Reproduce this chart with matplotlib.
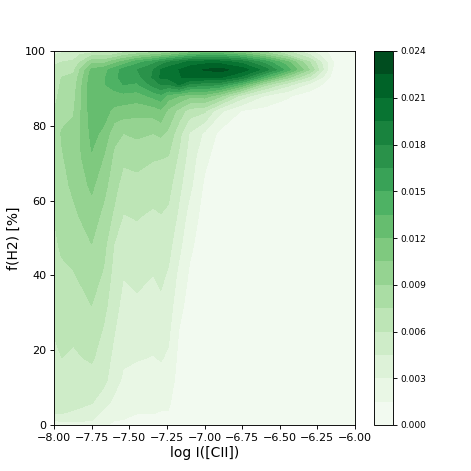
import numpy as np
import matplotlib
matplotlib.use("Agg")
import matplotlib.pyplot as plt

log_cii = [-8, -7.95, -7.87, -7.75, -7.67, -7.6, -7.54, -7.45, -7.34, -7.29, -7.24,
           -7.17, -7.1, -7.0, -6.9, -6.75, -6.6, -6.45, -6.3, -6.15, -6]
fh2 = [0, 3, 6, 12, 18, 24, 32, 40, 48, 56, 64, 72, 78, 84, 88, 91, 93, 95, 97, 99, 100]

# density (in units of 0.001), one list per log I column, one entry per f(H2) row
density_columns = [
    [2.0, 4.5, 4.7, 5.1, 5.6, 6.0, 6.4, 6.8, 7.2, 7.55, 7.9, 8.2, 8.0, 7.5, 7.1, 6.8, 6.6, 6.3, 5.8, 4.5, 3.5],
    [2.3, 4.5, 5.0, 5.5, 6.0, 6.3, 6.7, 7.2, 7.7, 8.1, 8.5, 8.9, 9.1, 8.5, 7.9, 7.7, 7.5, 6.8, 6.0, 5.0, 4.0],
    [2.5, 4.3, 4.9, 5.4, 5.8, 6.2, 6.7, 7.4, 8.0, 8.7, 9.3, 9.5, 9.3, 8.9, 8.5, 8.3, 7.8, 7.2, 6.2, 5.5, 4.5],
    [2.6, 3.6, 4.6, 5.4, 6.2, 6.9, 7.5, 8.2, 8.95, 9.8, 10.8, 11.9, 12.4, 12.8, 13.0, 13.0, 12.9, 12.3, 10.0, 7.0, 5.0],
    [1.7, 2.6, 3.5, 5.0, 5.3, 5.7, 6.5, 7.3, 8.0, 8.6, 9.5, 10.5, 11.7, 12.6, 13.1, 13.4, 13.3, 13.0, 10.0, 7.0, 5.5],
    [1.2, 2.0, 2.7, 3.5, 4.1, 4.5, 5.0, 5.4, 5.9, 7.2, 8.1, 8.7, 9.5, 11.6, 13.0, 14.0, 14.4, 14.2, 11.5, 7.5, 6.0],
    [1.3, 1.7, 2.1, 2.8, 3.2, 3.6, 4.1, 4.55, 5.2, 5.95, 6.8, 7.9, 9.0, 11.3, 13.0, 15.0, 15.7, 15.5, 12.5, 8.5, 6.5],
    [0.9, 1.5, 1.9, 2.5, 3.1, 3.5, 4.2, 4.9, 5.5, 6.1, 7.0, 8.1, 9.3, 11.0, 12.8, 14.7, 15.9, 16.4, 14.5, 9.5, 7.0],
    [0.9, 1.5, 1.8, 2.4, 2.95, 3.3, 3.9, 4.5, 5.2, 5.8, 6.6, 7.7, 9.0, 11.2, 13.9, 17.0, 18.2, 18.0, 16.0, 10.5, 8.0],
    [0.9, 1.4, 1.8, 2.5, 3.1, 3.5, 4.2, 4.8, 5.4, 5.95, 6.7, 7.6, 9.3, 11.7, 14.5, 18.0, 19.7, 19.6, 17.0, 11.0, 8.5],
    [0.8, 1.4, 1.7, 2.3, 2.8, 3.2, 3.8, 4.3, 5.0, 5.7, 6.5, 7.5, 8.7, 10.1, 12.8, 17.8, 20.0, 20.4, 18.0, 11.5, 9.0],
    [0.4, 0.6, 0.7, 0.9, 1.1, 1.4, 1.9, 2.6, 3.4, 4.2, 4.9, 5.8, 6.5, 8.5, 12.0, 19.5, 20.9, 21.0, 19.0, 12.5, 10.0],
    [0.2, 0.3, 0.4, 0.5, 0.6, 0.7, 1.0, 1.3, 1.8, 2.4, 3.4, 3.9, 4.4, 6.8, 11.0, 17.5, 21.3, 21.9, 20.0, 13.5, 10.5],
    [0.1, 0.15, 0.2, 0.25, 0.3, 0.35, 0.45, 0.55, 0.7, 0.9, 1.25, 1.9, 2.75, 6.3, 11.2, 17.0, 21.0, 22.6, 20.5, 14.5, 11.0],
    [0.0, 0.05, 0.05, 0.1, 0.1, 0.15, 0.2, 0.25, 0.3, 0.4, 0.55, 0.8, 1.15, 3.4, 9.5, 16.5, 21.3, 23.0, 20.5, 14.5, 11.0],
    [0.0, 0.0, 0.0, 0.05, 0.05, 0.05, 0.1, 0.1, 0.15, 0.2, 0.3, 0.5, 0.8, 1.4, 5.3, 13.0, 19.0, 21.8, 19.0, 13.0, 10.0],
    [0.0, 0.0, 0.0, 0.0, 0.05, 0.05, 0.05, 0.1, 0.1, 0.15, 0.2, 0.3, 0.55, 1.0, 2.9, 8.0, 14.0, 18.8, 16.0, 10.5, 8.5],
    [0.0, 0.0, 0.0, 0.0, 0.0, 0.05, 0.05, 0.05, 0.1, 0.1, 0.15, 0.2, 0.35, 0.7, 1.7, 5.0, 9.5, 14.3, 12.5, 7.5, 6.0],
    [0.0, 0.0, 0.0, 0.0, 0.0, 0.0, 0.0, 0.05, 0.05, 0.05, 0.1, 0.1, 0.15, 0.3, 0.7, 2.5, 5.6, 8.9, 7.5, 4.5, 3.2],
    [0.0, 0.0, 0.0, 0.0, 0.0, 0.0, 0.0, 0.0, 0.0, 0.0, 0.05, 0.05, 0.05, 0.1, 0.2, 0.6, 1.0, 1.5, 1.6, 1.0, 0.7],
    [0.0, 0.0, 0.0, 0.0, 0.0, 0.0, 0.0, 0.0, 0.0, 0.0, 0.0, 0.0, 0.0, 0.05, 0.05, 0.1, 0.1, 0.1, 0.1, 0.1, 0.1],
]
levels = np.arange(17) * 0.0015
x_ticks = [-8, -7.75, -7.5, -7.25, -7, -6.75, -6.5, -6.25, -6]
y_ticks = [0, 20, 40, 60, 80, 100]
cbar_ticks = [0, 0.003, 0.006, 0.009, 0.012, 0.015, 0.018, 0.021, 0.024]

plt.rcParams["axes.linewidth"] = 0.65
fig = plt.figure(figsize=(4.71, 4.71), dpi=100)
W = H = 471
ax = fig.add_axes([54 / W, 1 - 425 / H, 301 / W, 374 / H])
cax = fig.add_axes([374 / W, 1 - 425 / H, 19 / W, 374 / H])

Z = np.array(density_columns).T * 0.001
cs = ax.contourf(log_cii, fh2, Z, levels=levels, cmap="Greens")
ax.set_xlim(-8, -6)
ax.set_ylim(0, 100)
ax.set_xticks(x_ticks)
ax.set_xticklabels([f"\u2212{abs(t):.2f}" for t in x_ticks])
ax.set_yticks(y_ticks)
ax.set_xlabel("log I([CII])", fontsize=10, labelpad=2.5)
ax.set_ylabel("f(H2) [%]", fontsize=10, labelpad=3)
ax.tick_params(labelsize=8, length=2.8, width=0.65, pad=2.8)

cb = fig.colorbar(cs, cax=cax, ticks=cbar_ticks)
cb.ax.set_yticklabels([f"{t:.3f}" for t in cbar_ticks])
cb.ax.tick_params(labelsize=6.5, length=2.8, width=0.65, pad=2.8)
cb.outline.set_linewidth(0.65)

fig.savefig("out.png", dpi=100)
